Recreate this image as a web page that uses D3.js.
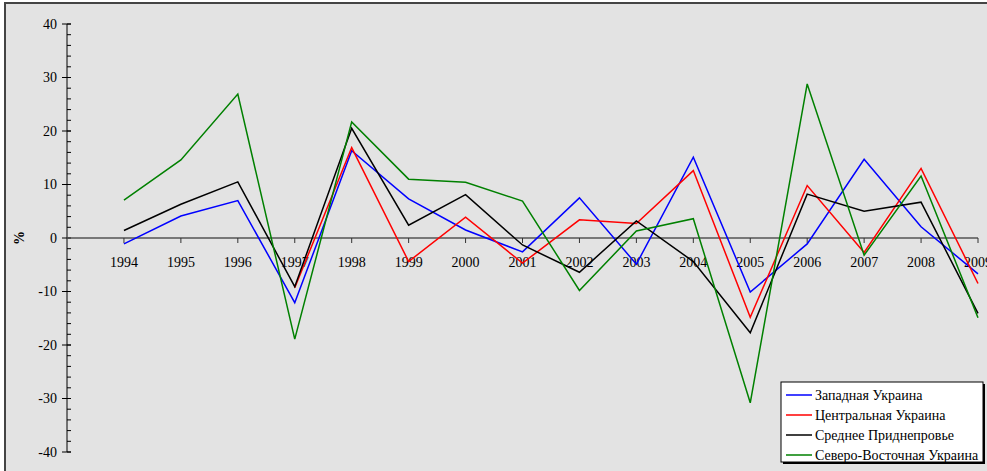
<!DOCTYPE html>
<html>
<head>
<meta charset="utf-8">
<script src="https://cdn.jsdelivr.net/npm/d3@7"></script>
<style>
  body { margin: 0; background: #fff; }
  svg { display: block; }
  svg text { font-family: "Liberation Serif", "DejaVu Serif", serif; }
</style>
</head>
<body>
<svg id="chart" width="987" height="471"></svg>
<script>
/* годы */
var years = [1994, 1995, 1996, 1997, 1998, 1999, 2000, 2001, 2002, 2003, 2004, 2005, 2006, 2007, 2008, 2009];
/* регионы, % */
var zapadnaya = [-1.1, 4.1, 7.0, -12.1, 16.3, 7.3, 1.5, -2.6, 7.5, -4.9, 15.1, -10.1, -1.1, 14.7, 2.1, -6.7];
var centralnaya = [null, null, null, -9.3, 16.9, -4.4, 3.9, -4.7, 3.4, 2.7, 12.6, -14.8, 9.8, -2.7, 13.0, -8.5];
var pridneprovye = [1.4, 6.3, 10.5, -9.1, 20.5, 2.4, 8.1, -1.3, -6.4, 3.2, -4.4, -17.7, 8.2, 5.0, 6.7, -14.1];
var severoVostok = [7.1, 14.6, 26.9, -18.9, 21.7, 11.0, 10.4, 6.9, -9.8, 1.3, 3.6, -30.8, 28.8, -3.2, 11.6, -14.9];
var seriesNames = ['Западная Украина', 'Центральная Украина', 'Среднее Приднепровье', 'Северо-Восточная Украина'];
var seriesColors = ['#0000ff', '#ff0000', '#000000', '#008000'];
var yTicks = [-40, -30, -20, -10, 0, 10, 20, 30, 40];

var series = [zapadnaya, centralnaya, pridneprovye, severoVostok].map(function(v, i) {
    return { name: seriesNames[i], color: seriesColors[i], values: v };
});

var svg = d3.select('#chart');

/* фон и рамка */
svg.append('rect').attr('x', 5).attr('y', 3).attr('width', 990).attr('height', 480)
    .attr('fill', '#e3e3e3').attr('stroke', '#444').attr('stroke-width', 2);

var x = d3.scaleLinear().domain([1993, 2009]).range([67, 978]);
var y = d3.scaleLinear().domain([-40, 40]).range([452, 24]);

/* ось Y */
var yAxis = svg.append('g').attr('transform', 'translate(67,0)');
yAxis.append('line').attr('y1', y(40)).attr('y2', y(-40)).attr('stroke', '#000');
yAxis.selectAll('line.minor').data(d3.range(-40, 41, 2)).enter().append('line')
    .attr('class', 'minor').attr('x1', 0).attr('x2', 4)
    .attr('y1', function(d) { return y(d); }).attr('y2', function(d) { return y(d); })
    .attr('stroke', '#000');
yAxis.selectAll('line.major').data(yTicks).enter().append('line')
    .attr('class', 'major').attr('x1', -5).attr('x2', 4)
    .attr('y1', function(d) { return y(d); }).attr('y2', function(d) { return y(d); })
    .attr('stroke', '#000');
yAxis.selectAll('text').data(yTicks).enter().append('text')
    .attr('x', -10).attr('y', function(d) { return y(d); }).attr('dy', '0.35em')
    .attr('text-anchor', 'end').attr('font-size', 14).text(function(d) { return d; });

svg.append('text').attr('transform', 'translate(19,' + y(0) + ') rotate(-90)')
    .attr('text-anchor', 'middle').attr('dy', '0.35em')
    .attr('font-size', 14).attr('font-weight', 'bold').text('%');

/* ось X по нулю */
var xAxis = svg.append('g').attr('transform', 'translate(0,' + y(0) + ')');
xAxis.append('line').attr('x1', 67).attr('x2', 978).attr('stroke', '#555').attr('stroke-width', 1.6);
xAxis.selectAll('line.tick').data(years).enter().append('line')
    .attr('class', 'tick').attr('x1', function(d) { return x(d); }).attr('x2', function(d) { return x(d); })
    .attr('y1', 0).attr('y2', 5).attr('stroke', '#333');
xAxis.selectAll('text').data(years).enter().append('text')
    .attr('x', function(d) { return x(d); }).attr('y', 29)
    .attr('text-anchor', 'middle').attr('font-size', 14).text(function(d) { return d; });

/* линии */
var line = d3.line()
    .defined(function(d) { return d != null; })
    .x(function(d, i) { return x(years[i]); })
    .y(function(d) { return y(d); });

svg.selectAll('path.series').data(series).enter().append('path')
    .attr('class', 'series').attr('fill', 'none')
    .attr('stroke', function(d) { return d.color; }).attr('stroke-width', 1.5)
    .attr('d', function(d) { return line(d.values); });

/* легенда */
var lg = svg.append('g').attr('transform', 'translate(781,382)');
lg.append('rect').attr('x', 2).attr('y', 2).attr('width', 202).attr('height', 80).attr('fill', '#000');
lg.append('rect').attr('x', 0).attr('y', 0).attr('width', 202).attr('height', 80)
    .attr('fill', '#fff').attr('stroke', '#000');
var items = lg.selectAll('g.item').data(series).enter().append('g')
    .attr('transform', function(d, i) { return 'translate(0,' + (13 + i * 20) + ')'; });
items.append('line').attr('x1', 5).attr('x2', 31).attr('stroke', function(d) { return d.color; }).attr('stroke-width', 1.5);
items.append('text').attr('x', 34).attr('dy', '0.35em').attr('font-size', 14).text(function(d) { return d.name; });
</script>
</body>
</html>
